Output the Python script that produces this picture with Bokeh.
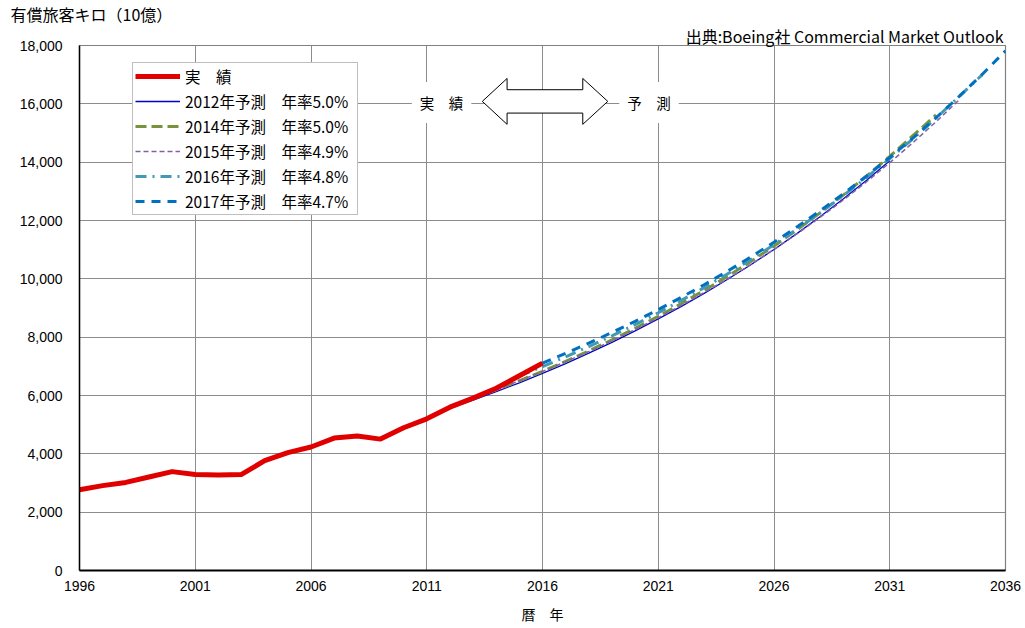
from bokeh.plotting import figure
from bokeh.models import (Legend, LegendItem, FixedTicker, NumeralTickFormatter,
                          Label, PolyAnnotation, Range1d, Title)
from bokeh.embed import file_html
from bokeh.resources import INLINE

# ---------------- data ----------------
years_actual = list(range(1996, 2017))
rpk_actual = [2770, 2910, 3020, 3205, 3390, 3295, 3275, 3295, 3765, 4040, 4235,
              4540, 4610, 4505, 4895, 5200, 5600, 5910, 6250, 6675, 7110]

years_f2012 = list(range(2012, 2032))
rpk_f2012 = [5560, 5838, 6130, 6436, 6758, 7096, 7451, 7823, 8215, 8625,
             9057, 9509, 9985, 10484, 11008, 11559, 12137, 12744, 13381, 14050]

years_f2014 = list(range(2013, 2034))
rpk_f2014 = [5900, 6195, 6505, 6830, 7172, 7530, 7907, 8302, 8717, 9153, 9611,
             10091, 10596, 11126, 11682, 12266, 12879, 13523, 14199, 14909, 15620]

years_f2015 = list(range(2014, 2035))
rpk_f2015 = [6200, 6504, 6822, 7157, 7507, 7875, 8261, 8666, 9091, 9536, 10003,
             10493, 11008, 11547, 12113, 12706, 13329, 13982, 14667, 15386, 16140]

years_f2016 = list(range(2015, 2036))
rpk_f2016 = [6670, 6990, 7326, 7677, 8046, 8432, 8837, 9261, 9705, 10171, 10659,
             11171, 11707, 12269, 12858, 13475, 14122, 14800, 15510, 16254, 17000]

years_f2017 = list(range(2016, 2037))
rpk_f2017 = [7110, 7444, 7794, 8160, 8544, 8945, 9366, 9806, 10267, 10750, 11255,
             11784, 12338, 12918, 13525, 14161, 14826, 15523, 16253, 17016, 17816]

x_ticks = [1996, 2001, 2006, 2011, 2016, 2021, 2026, 2031, 2036]
y_ticks = [0, 2000, 4000, 6000, 8000, 10000, 12000, 14000, 16000, 18000]

series_labels = ["実　績",
                 "2012年予測　年率5.0%",
                 "2014年予測　年率5.0%",
                 "2015年予測　年率4.9%",
                 "2016年予測　年率4.8%",
                 "2017年予測　年率4.7%"]

y_unit_text = "有償旅客キロ（10億）"
source_text = "出典:Boeing社 Commercial Market Outlook"

JP = "Noto Sans CJK JP"
NUM = "Liberation Sans"

# ---------------- figure ----------------
p = figure(width=1022, height=626, output_backend="svg", toolbar_location=None,
           x_range=Range1d(1996, 2036), y_range=Range1d(0, 18000),
           min_border_left=79, min_border_right=17, min_border_top=45,
           min_border_bottom=55)
p.background_fill_color = "white"
p.border_fill_color = "white"
p.outline_line_color = "#808080"
p.outline_line_width = 1.2

# titles: unit label at the very top left, source line just above the frame
p.title.text = y_unit_text
p.title.align = "left"
p.title.offset = -69
p.title.text_font = JP
p.title.text_font_style = "normal"
p.title.text_font_size = "16px"
p.title.text_color = "black"
p.title.standoff = -4
source_title = Title(text=source_text, align="right", offset=2, text_font=JP,
                     text_font_style="normal", text_font_size="16px",
                     text_color="black", standoff=-4)
p.add_layout(source_title, "above")

# grid
p.xgrid.ticker = FixedTicker(ticks=x_ticks)
p.ygrid.ticker = FixedTicker(ticks=y_ticks)
for g in (p.xgrid, p.ygrid):
    g.grid_line_color = "#8c8c8c"
    g.grid_line_width = 1

# axes
p.xaxis.ticker = FixedTicker(ticks=x_ticks)
p.yaxis.ticker = FixedTicker(ticks=y_ticks)
p.yaxis.formatter = NumeralTickFormatter(format="0,0")
for ax in (p.xaxis, p.yaxis):
    ax.major_tick_line_color = None
    ax.minor_tick_line_color = None
    ax.major_tick_in = 0
    ax.major_tick_out = 0
    ax.axis_line_color = "black"
    ax.major_label_text_font = NUM
    ax.major_label_text_font_size = "14px"
    ax.major_label_text_color = "black"
p.yaxis.axis_line_width = 1.5
p.xaxis.axis_line_width = 2
p.yaxis.major_label_standoff = 17
p.xaxis.major_label_standoff = 10
p.xaxis.axis_label = "暦　年"
p.xaxis.axis_label_text_font = JP
p.xaxis.axis_label_text_font_style = "normal"
p.xaxis.axis_label_text_font_size = "14px"
p.xaxis.axis_label_standoff = 10
p.xaxis.axis_label_text_color = "black"

# ---------------- lines ----------------
r2012 = p.line(years_f2012, rpk_f2012, line_color="#0000CC", line_width=1.3)
r2014 = p.line(years_f2014, rpk_f2014, line_color="#77933C", line_width=3,
               line_dash="11 5")
r2015 = p.line(years_f2015, rpk_f2015, line_color="#8064A2", line_width=1.5,
               line_dash="5 3")
r2016 = p.line(years_f2016, rpk_f2016, line_color="#4299B5", line_width=3,
               line_dash="11 6 2 6")
r2017 = p.line(years_f2017, rpk_f2017, line_color="#0070C0", line_width=3,
               line_dash="9 7")
ract = p.line(years_actual, rpk_actual, line_color="#E00000", line_width=5,
              line_join="round")

legend = Legend(items=[LegendItem(label=series_labels[0], renderers=[ract]),
                       LegendItem(label=series_labels[1], renderers=[r2012]),
                       LegendItem(label=series_labels[2], renderers=[r2014]),
                       LegendItem(label=series_labels[3], renderers=[r2015]),
                       LegendItem(label=series_labels[4], renderers=[r2016]),
                       LegendItem(label=series_labels[5], renderers=[r2017])],
                location=(53, 355))
legend.label_text_font = JP
legend.label_text_font_size = "15.5px"
legend.label_text_color = "black"
legend.label_height = 20
legend.glyph_height = 20
legend.glyph_width = 45
legend.label_standoff = 5
legend.label_width = 170
legend.spacing = 3
legend.padding = 2
legend.margin = 0
legend.border_line_color = "#808080"
legend.border_line_width = 1
legend.background_fill_color = "white"
legend.background_fill_alpha = 1
p.add_layout(legend, "center")

# ---------------- annotations ----------------
arrow_x = [2013.40, 2014.47, 2014.47, 2017.74, 2017.74, 2018.82,
           2017.74, 2017.74, 2014.47, 2014.47]
arrow_y = [16084, 16870, 16484, 16484, 16870, 16084,
           15297, 15683, 15683, 15297]
p.add_layout(PolyAnnotation(xs=arrow_x, ys=arrow_y, fill_color="white",
                            fill_alpha=1, line_color="black", line_alpha=1,
                            line_width=1))

for tx, txt in ((2011.64, "実　績"), (2020.60, "予　測")):
    p.add_layout(Label(x=tx, y=16050, text=txt, text_align="center",
                       text_baseline="middle", text_font=JP,
                       text_font_size="14.5px", text_color="black",
                       background_fill_color="white", background_fill_alpha=1,
                       padding=(8, 10)))

open("out.html", "w").write(file_html(p, INLINE))
